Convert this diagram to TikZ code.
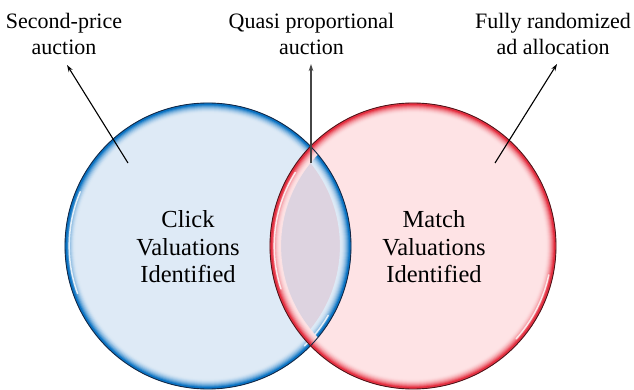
\documentclass[tikz,border=0pt]{standalone}
\usepackage{fontspec}
\setmainfont{Liberation Serif}
\usetikzlibrary{arrows.meta,calc}
\definecolor{bluefill}{RGB}{222,234,246}
\definecolor{bluerim}{RGB}{10,115,195}
\definecolor{blueline}{RGB}{20,40,70}
\definecolor{redfill}{RGB}{254,227,229}
\definecolor{redrim}{RGB}{228,40,58}
\definecolor{redline}{RGB}{80,20,25}
\definecolor{overlapfill}{RGB}{221,211,224}
\definecolor{midarrow}{RGB}{70,70,70}
\tikzset{
  lbl/.style={align=center, inner sep=0pt, font=\fontsize{22}{26}\selectfont},
  setname/.style={align=center, inner sep=0pt, font=\fontsize{24.5}{27.5}\selectfont},
  pointer/.style={-{Stealth[length=7pt,width=4.5pt]}, line width=1.1pt, black},
  midpointer/.style={-{Stealth[length=7pt,width=4.5pt]}, line width=1.8pt, midarrow},
  highlight/.style={white, line width=1.5pt, opacity=0.8, line cap=round},
}
\begin{document}
\begin{tikzpicture}[x=1pt,y=1pt]
\useasboundingbox (0,0) rectangle (634,389);
\coordinate (B) at (208,143);
\coordinate (R) at (413,143);
% fills
\fill[bluefill] (B) circle (143pt);
\fill[redfill] (R) circle (143pt);
\begin{scope}
  \clip (B) circle (143pt);
  \fill[overlapfill] (R) circle (143pt);
\end{scope}
% blue rim
\foreach \i in {9,...,0} {
  \pgfmathsetmacro\p{100*(1-\i/9)^2}
  \pgfmathsetmacro\rr{143-\i-1}
  \draw[bluerim!\p!bluefill, line width=2.2pt] (B) circle (\rr pt);
}
\draw[highlight] ($(B)+(157:138.8pt)$) arc (157:200:138.8pt);
\draw[highlight] ($(B)+(-46:138.8pt)$) arc (-46:-30:138.8pt);
% red rim
\begin{scope}[opacity=0.9]
\foreach \i in {9,...,0} {
  \pgfmathsetmacro\p{100*(1-\i/9)^2}
  \pgfmathsetmacro\rr{143-\i-1}
  \draw[redrim!\p!redfill, line width=2.2pt] (R) circle (\rr pt);
}
\end{scope}
\draw[highlight] ($(R)+(148:138.8pt)$) arc (148:198:138.8pt);
\draw[highlight] ($(R)+(-42:138.8pt)$) arc (-42:-12:138.8pt);
% outlines
\draw[blueline, line width=0.9pt] (B) circle (143pt);
\draw[redline, line width=0.9pt] (R) circle (143pt);
% set names
\node[setname] (click) at (188,142) {Click\\Valuations\\Identified};
\node[setname] (match) at (434,142) {Match\\Valuations\\Identified};
% labels
\node[lbl] (second) at (64,355.5) {Second-price\\auction};
\node[lbl] (quasi) at (311.5,355.5) {Quasi proportional\\auction};
\node[lbl] (fully) at (553,355.5) {Fully randomized\\ad allocation};
% arrows
\coordinate (lt) at (128,226);
\coordinate (lh) at (67,324);
\coordinate (mt) at (311,226);
\coordinate (mh) at (311,325);
\coordinate (rt) at (495,226);
\coordinate (rh) at (557,325);
\draw[pointer] (lt) -- (lh);
\draw[midpointer] (mt) -- (mh);
\draw[pointer] (rt) -- (rh);
\end{tikzpicture}
\end{document}
